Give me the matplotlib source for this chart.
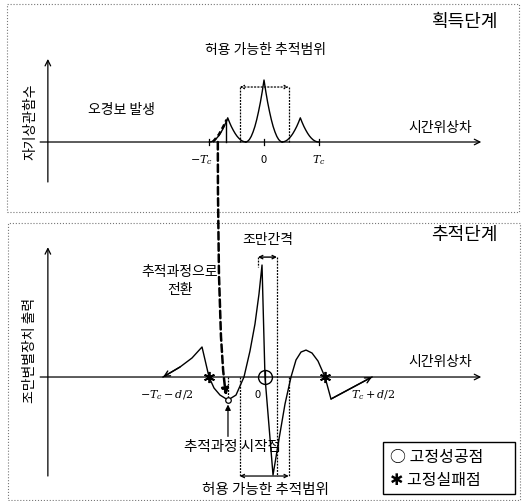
import matplotlib.pyplot as plt
from matplotlib.patches import Rectangle, ConnectionPatch

plt.rcParams['font.family'] = ['Noto Sans CJK KR', 'DejaVu Sans']
plt.rcParams['mathtext.fontset'] = 'dejavuserif'

# acquisition stage: autocorrelation lobes (x in chips)
lobe_offset = [0.0, 0.033, 0.066, 0.1, 0.133, 0.166, 0.2, 0.233, 0.266, 0.3, 0.333]
lobe_shape = [1.0, 0.81, 0.64, 0.49, 0.36, 0.25, 0.16, 0.09, 0.04, 0.01, 0.0]
lobe_center = [-0.66, 0.0, 0.66]
lobe_peak = [0.39, 1.0, 0.39]
acq_ticks = [-1, 0, 1]
acq_tick_labels = ['$-T_c$', '0', '$T_c$']
acq_label_x = [-1.13, 0.0, 1.0]
pull_range = [-0.44, 0.45]
false_alarm_x = -0.69

# tracking stage: early-late discriminator output
trk_x = [-1.836, -1.527, -1.309, -1.127, -1.0, -0.909, -0.8, -0.655, -0.509, -0.364,
         -0.255, -0.164, -0.091, -0.036, 0.018, 0.164, 0.273, 0.382, 0.491, 0.582,
         0.673, 0.764, 0.873, 0.982, 1.109, 1.218, 1.964]
trk_y = [0.0, 0.091, 0.173, 0.273, 0.0, -0.1, -0.164, -0.209, -0.164, 0.0,
         0.236, 0.482, 0.755, 1.018, 0.0, -0.891, -0.564, -0.245, 0.0, 0.155,
         0.227, 0.245, 0.218, 0.145, 0.0, -0.2, 0.0]
lock_ok_x = [0.018]
lock_fail_x = [-1.0, 1.109]
track_start = (-0.655, -0.209)
el_spacing = [-0.11, 0.236]
trk_tick_x = [-1.76, -0.11, 1.98]
trk_tick_labels = ['$-T_c-d/2$', '0', '$T_c+d/2$']

fig = plt.figure(figsize=(5.31, 5.02), dpi=100)
ax1 = fig.add_axes([7/531, 1-213/502, 512/531, 208/502])
ax2 = fig.add_axes([8/531, 1-501/502, 512/531, 277/502])
ax1.set_xlim(-4.673, 4.636)
ax1.set_ylim(-1.129, 2.226)
ax2.set_xlim(-4.655, 4.655)
ax2.set_ylim(-1.118, 1.4)
for ax in (ax1, ax2):
    ax.axis('off')
    ax.add_patch(Rectangle((0, 0), 1, 1, transform=ax.transAxes, fill=False,
                           ls=':', lw=0.8, ec='#777777', clip_on=False))
    ax.annotate('', xy=(3.95, 0), xytext=(-4.07, 0),
                arrowprops=dict(arrowstyle='->', lw=0.9, color='k', shrinkA=0, shrinkB=0))

kw = dict(ha='center', va='center', color='k')
dash = (0, (1.5, 1))

# ---- top panel ----
ax1.annotate('', xy=(-3.93, 1.34), xytext=(-3.93, -0.645),
             arrowprops=dict(arrowstyle='->', lw=0.9, color='k', shrinkA=0, shrinkB=0))
for c, p in zip(lobe_center, lobe_peak):
    xs = [c - o for o in lobe_offset[::-1]] + [c + o for o in lobe_offset[1:]]
    ys = [p * s for s in lobe_shape[::-1]] + [p * s for s in lobe_shape[1:]]
    ax1.plot(xs, ys, color='k', lw=1.0)
for t, lx, lab in zip(acq_ticks, acq_label_x, acq_tick_labels):
    ax1.plot([t, t], [-0.05, 0.05], color='k', lw=0.9)
    ax1.text(lx, -0.27, lab, fontsize=8, **kw)
top = 0.887
for x in pull_range:
    ax1.plot([x, x], [0, top], color='k', lw=0.9, ls=dash)
ax1.annotate('', xy=(pull_range[1], top), xytext=(pull_range[0], top),
             arrowprops=dict(arrowstyle='<->', lw=0.9, ls=':', color='k',
                             shrinkA=0, shrinkB=0, mutation_scale=6))
fa_h = lobe_peak[0] * 0.9
ax1.plot([false_alarm_x, false_alarm_x], [0, fa_h], color='k', lw=1.0)
ax1.plot([-0.93, -0.82, -0.74, -0.68], [0.0, 0.12, 0.25, 0.36], color='k', lw=1.8,
         ls=(0, (2, 1.2)))
ax1.text(0.02, 1.5, '허용 가능한 추적범위', fontsize=10, **kw)
ax1.text(3.65, 1.95, '획득단계', fontsize=13, **kw)
ax1.text(3.2, 0.24, '시간위상차', fontsize=10, **kw)
ax1.text(-2.6, 0.53, '오경보 발생', fontsize=10, **kw)
ax1.text(-4.25, 0.34, '자기상관함수', fontsize=10, rotation=90, **kw)

# ---- bottom panel ----
ax2.annotate('', xy=(-3.93, 1.18), xytext=(-3.93, -0.9),
             arrowprops=dict(arrowstyle='->', lw=0.9, color='k', shrinkA=0, shrinkB=0))
ax2.plot(trk_x, trk_y, color='k', lw=1.0)
ax2.annotate('', xy=(trk_x[0], trk_y[0]), xytext=(trk_x[1], trk_y[1]),
             arrowprops=dict(arrowstyle='->', lw=1.0, color='k', shrinkA=0, shrinkB=0))
ax2.annotate('', xy=(trk_x[-1], trk_y[-1]), xytext=(trk_x[-2], trk_y[-2]),
             arrowprops=dict(arrowstyle='->', lw=1.0, color='k', shrinkA=0, shrinkB=0))
ax2.plot(lock_fail_x, [0] * len(lock_fail_x), ls='none', marker=(6, 2, 0),
         ms=8, mew=1.3, color='k')
ax2.plot(lock_ok_x, [0], ls='none', marker='o', ms=10, mfc='none', mec='k', mew=1.0)
ax2.plot([lock_ok_x[0]] * 2, [-0.06, 0.06], color='k', lw=0.9)
ax2.plot([track_start[0]] * 2, [0, track_start[1]], color='k', lw=0.9, ls=dash)
ax2.plot([track_start[0]], [track_start[1]], ls='none', marker='o', ms=4,
         mfc='white', mec='k', mew=0.9)
ax2.annotate('', xy=(track_start[0], -0.25), xytext=(track_start[0], -0.54),
             arrowprops=dict(arrowstyle='-|>', lw=0.9, color='k', shrinkA=0, shrinkB=0,
                             mutation_scale=8))
for t, lab in zip(trk_tick_x, trk_tick_labels):
    ax2.text(t, -0.155, lab, fontsize=8, **kw)

bot = -0.9
for x in pull_range:
    ax2.plot([x, x], [0, bot], color='k', lw=0.9, ls=dash)
ax2.annotate('', xy=(pull_range[1], bot), xytext=(pull_range[0], bot),
             arrowprops=dict(arrowstyle='<->', lw=0.9, color='k', shrinkA=0, shrinkB=0,
                             mutation_scale=6))
el_top = 1.09
ax2.plot([el_spacing[0]] * 2, [el_top, 1.0], color='k', lw=0.9, ls=dash)
ax2.plot([el_spacing[1]] * 2, [el_top, bot], color='k', lw=0.9, ls=dash)
ax2.annotate('', xy=(el_spacing[1], el_top), xytext=(el_spacing[0], el_top),
             arrowprops=dict(arrowstyle='<->', lw=1.0, color='k', shrinkA=0, shrinkB=0,
                             mutation_scale=6))

ax2.text(0.06, 1.255, '조만간격', fontsize=10, **kw)
ax2.text(3.65, 1.3, '추적단계', fontsize=13, **kw)
ax2.text(3.2, 0.145, '시간위상차', fontsize=10, **kw)
ax2.text(-1.53, 0.96, '추적과정으로', fontsize=10, **kw)
ax2.text(-1.53, 0.8, '전환', fontsize=10, **kw)
ax2.text(-0.58, -0.627, '추적과정 시작점', fontsize=10.5, **kw)
ax2.text(0.02, -1.02, '허용 가능한 추적범위', fontsize=10.5, **kw)
ax2.text(-4.25, 0.25, '조만변별장치 출력', fontsize=10, rotation=90, **kw)

ax2.add_patch(Rectangle((2.164, -1.064), 2.4, 0.474, fill=False, ec='k', lw=1.0))
ax2.text(2.29, -0.727, '○ 고정성공점', fontsize=11.5, ha='left', va='center')
ax2.text(2.29, -0.936, '✱ 고정실패점', fontsize=11.5, ha='left', va='center')

con = ConnectionPatch(xyA=(-0.84, 0), coordsA=ax1.transData,
                      xyB=(track_start[0] - 0.03, track_start[1] + 0.04), coordsB=ax2.transData,
                      arrowstyle='-|>', connectionstyle='angle3,angleA=90,angleB=100',
                      lw=1.8, ls=(0, (3, 1.5)), color='k', mutation_scale=10)
fig.add_artist(con)

fig.savefig('out.png', dpi=100)
